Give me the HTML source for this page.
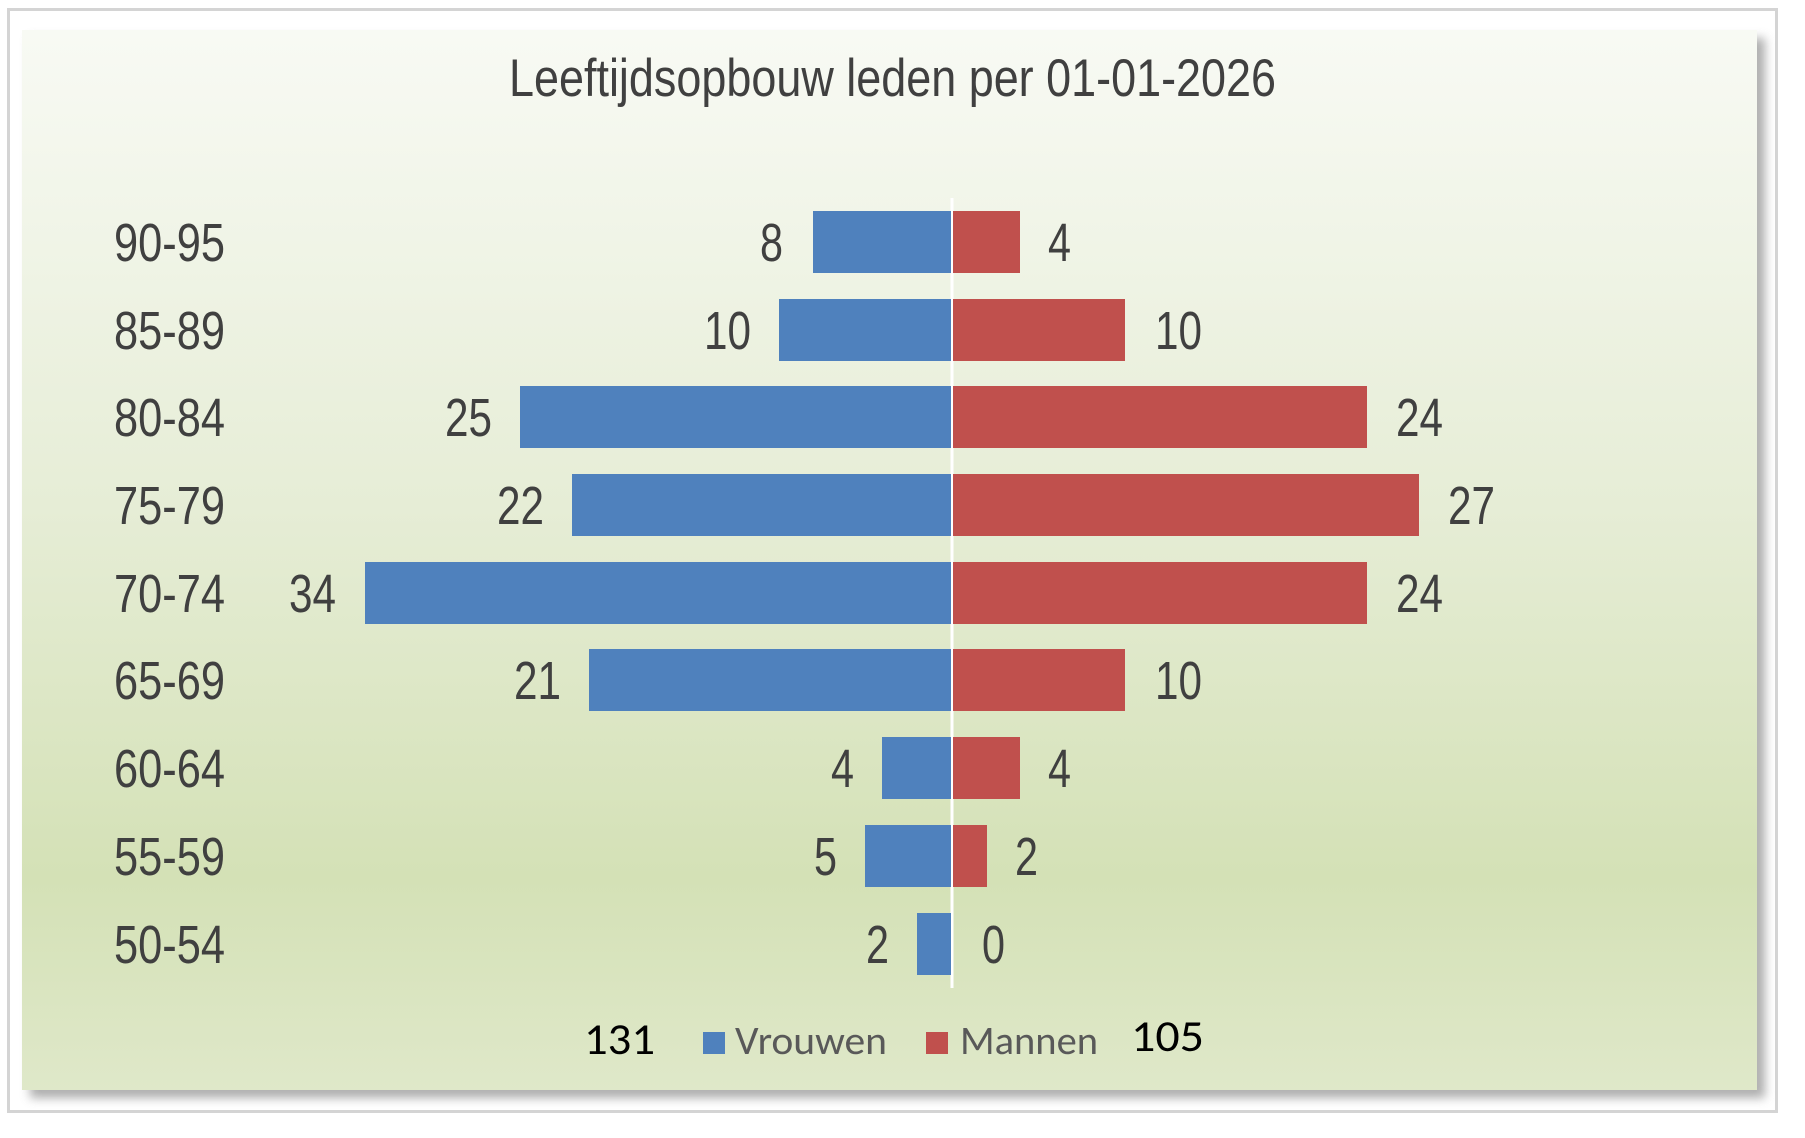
<!DOCTYPE html>
<html><head><meta charset="utf-8"><style>
html,body{margin:0;padding:0;background:#fff;}
svg{display:block;}
</style></head><body>
<svg width="1805" height="1138" viewBox="0 0 1805 1138" xmlns="http://www.w3.org/2000/svg">
<defs>
<linearGradient id="bg" x1="0" y1="0" x2="0" y2="1">
<stop offset="0" stop-color="#f8faf4"/>
<stop offset="0.45" stop-color="#e6edd6"/>
<stop offset="0.8" stop-color="#d4e1b6"/>
<stop offset="1" stop-color="#dfe8c9"/>
</linearGradient>
<filter id="sh" x="-5%" y="-5%" width="110%" height="115%">
<feGaussianBlur stdDeviation="5"/>
</filter>
</defs>
<rect x="8.5" y="9.5" width="1768" height="1102" fill="#fff" stroke="#d4d4d4" stroke-width="3"/>
<rect x="30" y="38" width="1735" height="1060" fill="#9a9a9a" filter="url(#sh)" opacity="0.8"/>
<rect x="22" y="30" width="1735" height="1060" fill="url(#bg)"/>
<g font-family="'Liberation Sans Narrow','Liberation Sans',sans-serif" fill="#404040">
<text x="509" y="96" font-size="53" textLength="767" lengthAdjust="spacingAndGlyphs">Leeftijdsopbouw leden per 01-01-2026</text>
</g>
<line x1="952" y1="198" x2="952" y2="988" stroke="#ffffff" stroke-width="3"/>
<g font-family="'Liberation Sans Narrow','Liberation Sans',sans-serif" font-size="54" fill="#404040">
<rect x="813" y="211" width="138" height="62" fill="#4f81bd"/><rect x="953" y="211" width="67" height="62" fill="#c0504d"/>
<text x="114" y="261" textLength="111" lengthAdjust="spacingAndGlyphs">90-95</text><text x="760" y="261" textLength="23" lengthAdjust="spacingAndGlyphs">8</text><text x="1048" y="261" textLength="23" lengthAdjust="spacingAndGlyphs">4</text>

<rect x="779" y="299" width="172" height="62" fill="#4f81bd"/><rect x="953" y="299" width="172" height="62" fill="#c0504d"/>
<text x="114" y="349" textLength="111" lengthAdjust="spacingAndGlyphs">85-89</text><text x="704" y="349" textLength="47" lengthAdjust="spacingAndGlyphs">10</text><text x="1155" y="349" textLength="47" lengthAdjust="spacingAndGlyphs">10</text>

<rect x="520" y="386" width="431" height="62" fill="#4f81bd"/><rect x="953" y="386" width="414" height="62" fill="#c0504d"/>
<text x="114" y="436" textLength="111" lengthAdjust="spacingAndGlyphs">80-84</text><text x="445" y="436" textLength="47" lengthAdjust="spacingAndGlyphs">25</text><text x="1396" y="436" textLength="47" lengthAdjust="spacingAndGlyphs">24</text>

<rect x="572" y="474" width="379" height="62" fill="#4f81bd"/><rect x="953" y="474" width="466" height="62" fill="#c0504d"/>
<text x="114" y="524" textLength="111" lengthAdjust="spacingAndGlyphs">75-79</text><text x="497" y="524" textLength="47" lengthAdjust="spacingAndGlyphs">22</text><text x="1448" y="524" textLength="47" lengthAdjust="spacingAndGlyphs">27</text>

<rect x="365" y="562" width="586" height="62" fill="#4f81bd"/><rect x="953" y="562" width="414" height="62" fill="#c0504d"/>
<text x="114" y="612" textLength="111" lengthAdjust="spacingAndGlyphs">70-74</text><text x="289" y="612" textLength="47" lengthAdjust="spacingAndGlyphs">34</text><text x="1396" y="612" textLength="47" lengthAdjust="spacingAndGlyphs">24</text>

<rect x="589" y="649" width="362" height="62" fill="#4f81bd"/><rect x="953" y="649" width="172" height="62" fill="#c0504d"/>
<text x="114" y="699" textLength="111" lengthAdjust="spacingAndGlyphs">65-69</text><text x="514" y="699" textLength="47" lengthAdjust="spacingAndGlyphs">21</text><text x="1155" y="699" textLength="47" lengthAdjust="spacingAndGlyphs">10</text>

<rect x="882" y="737" width="69" height="62" fill="#4f81bd"/><rect x="953" y="737" width="67" height="62" fill="#c0504d"/>
<text x="114" y="787" textLength="111" lengthAdjust="spacingAndGlyphs">60-64</text><text x="831" y="787" textLength="23" lengthAdjust="spacingAndGlyphs">4</text><text x="1048" y="787" textLength="23" lengthAdjust="spacingAndGlyphs">4</text>

<rect x="865" y="825" width="86" height="62" fill="#4f81bd"/><rect x="953" y="825" width="34" height="62" fill="#c0504d"/>
<text x="114" y="875" textLength="111" lengthAdjust="spacingAndGlyphs">55-59</text><text x="814" y="875" textLength="23" lengthAdjust="spacingAndGlyphs">5</text><text x="1015" y="875" textLength="23" lengthAdjust="spacingAndGlyphs">2</text>

<rect x="917" y="913" width="34" height="62" fill="#4f81bd"/>
<text x="114" y="963" textLength="111" lengthAdjust="spacingAndGlyphs">50-54</text><text x="866" y="963" textLength="23" lengthAdjust="spacingAndGlyphs">2</text><text x="982" y="963" textLength="23" lengthAdjust="spacingAndGlyphs">0</text>
</g>
<g font-family="Carlito,'Liberation Sans',sans-serif">
<text x="584" y="1054" font-size="44" fill="#000" textLength="71" lengthAdjust="spacingAndGlyphs">131</text>
<rect x="703" y="1032" width="22" height="22" fill="#4f81bd"/>
<text x="735" y="1054" font-size="40" fill="#595959" textLength="152" lengthAdjust="spacingAndGlyphs">Vrouwen</text>
<rect x="926" y="1032" width="22" height="22" fill="#c0504d"/>
<text x="960" y="1054" font-size="40" fill="#595959" textLength="138" lengthAdjust="spacingAndGlyphs">Mannen</text>
<text x="1131" y="1051" font-size="44" fill="#000" textLength="73" lengthAdjust="spacingAndGlyphs">105</text>
</g>
</svg>
</body></html>
